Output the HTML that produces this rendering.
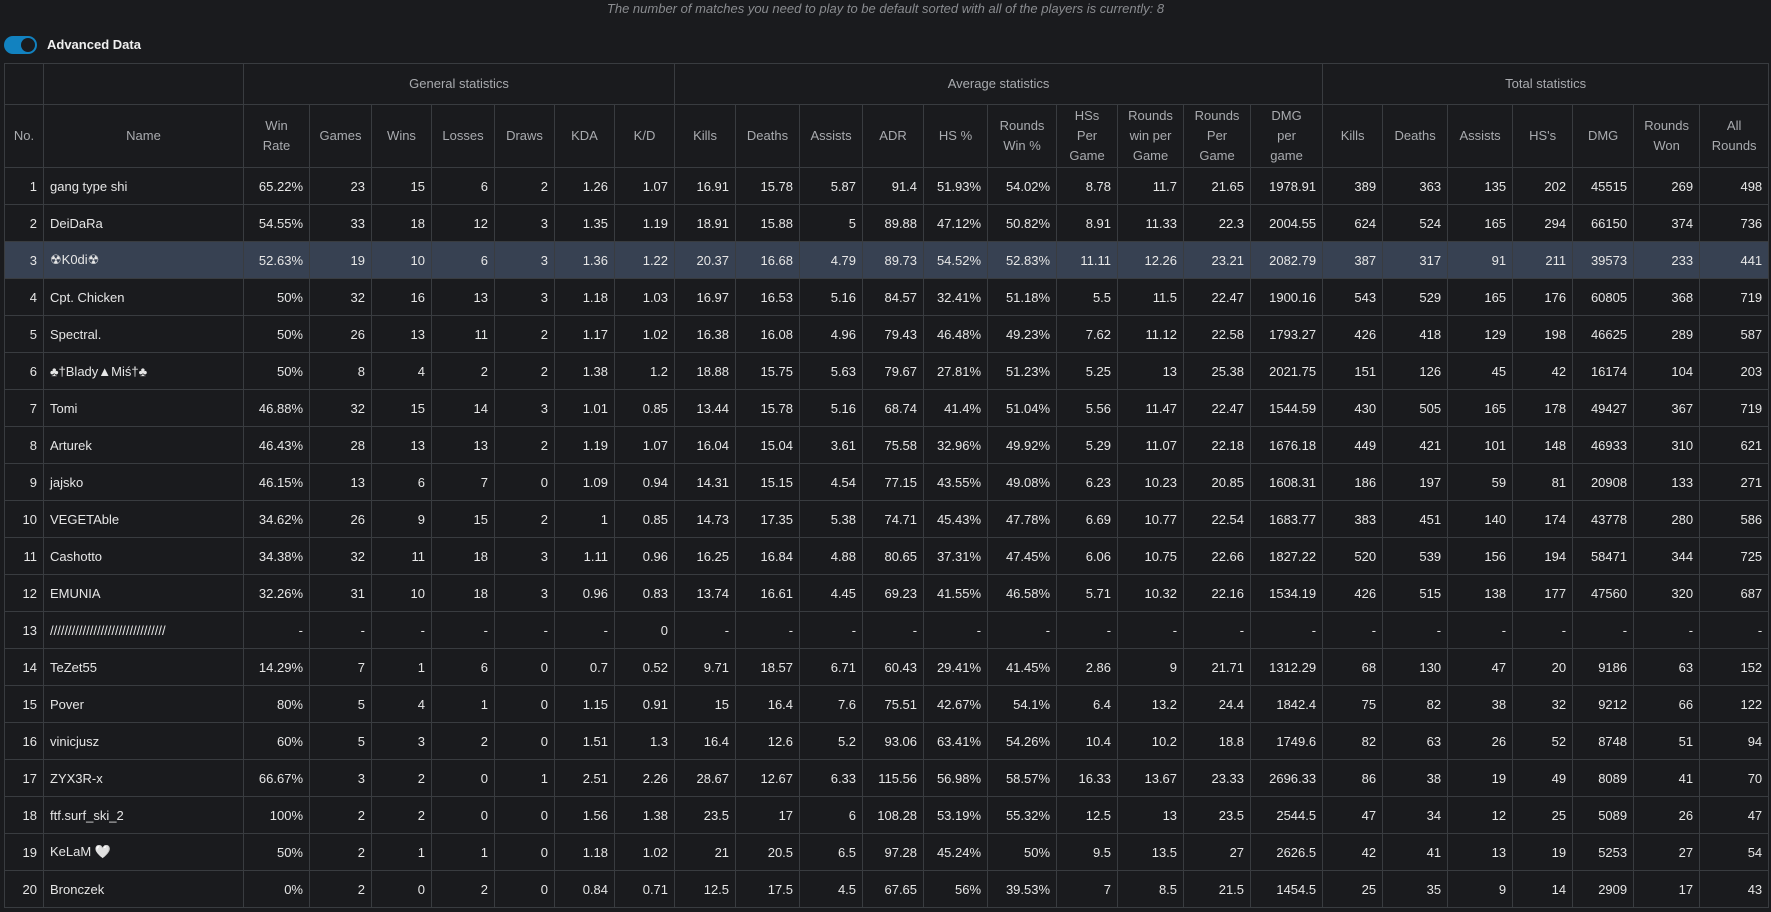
<!DOCTYPE html>
<html><head><meta charset="utf-8"><style>
body{margin:0;background:#1a1b1e;width:1771px;height:912px;overflow:hidden;font-family:"Liberation Sans","DejaVu Sans",sans-serif;color:#e6e6e6;position:relative}
#note{position:absolute;top:1px;left:0;width:1771px;text-align:center;font-style:italic;font-size:13px;color:#8a8c90}
#tog{position:absolute;left:4px;top:36px;width:33px;height:18px;border-radius:9px;background:#1282c0}
#tog div{position:absolute;right:2px;top:2px;width:14px;height:14px;border-radius:7px;background:#1a1b1e}
#lbl{position:absolute;left:47px;top:37px;font-size:13px;font-weight:bold;color:#f0f0f0}
table{position:absolute;left:4px;top:63px;border-collapse:collapse;table-layout:fixed;width:1764px;font-size:13px}
td,th{border:1px solid #393c40;padding:0 6px;overflow:hidden;white-space:nowrap}
th{color:#a9abaf;font-weight:normal;text-align:center;line-height:20px;padding:0 2px}
tr.g th{height:40px}
tr.h th{height:62px}
td{height:36px;text-align:right}
td.n{text-align:left}
tr.hl td{background:#374152}
</style></head><body>
<div id="note">The number of matches you need to play to be default sorted with all of the players is currently: 8</div>
<div id="tog"><div></div></div>
<div id="lbl">Advanced Data</div>
<table id="t">
<colgroup id="cg"></colgroup>
<thead>
<tr class="g"><th></th><th></th><th colspan="7">General statistics</th><th colspan="10">Average statistics</th><th colspan="7">Total statistics</th></tr>
<tr class="h" id="hr"></tr>
</thead><tbody id="tb"></tbody></table>
<script>
const edges=[4,43,243,309,371,431,494,554,614,674,735,799,862,923,987,1056,1117,1183,1250,1322,1382,1447,1512,1572,1633,1699,1768];
const headers=["No.","Name","Win|Rate","Games","Wins","Losses","Draws","KDA","K/D","Kills","Deaths","Assists","ADR","HS %","Rounds|Win %","HSs|Per|Game","Rounds|win per|Game","Rounds|Per|Game","DMG|per|game","Kills","Deaths","Assists","HS's","DMG","Rounds|Won","All|Rounds"];
const rows=[
["1","gang type shi","65.22%","23","15","6","2","1.26","1.07","16.91","15.78","5.87","91.4","51.93%","54.02%","8.78","11.7","21.65","1978.91","389","363","135","202","45515","269","498"],
["2","DeiDaRa","54.55%","33","18","12","3","1.35","1.19","18.91","15.88","5","89.88","47.12%","50.82%","8.91","11.33","22.3","2004.55","624","524","165","294","66150","374","736"],
["3","☢K0di☢","52.63%","19","10","6","3","1.36","1.22","20.37","16.68","4.79","89.73","54.52%","52.83%","11.11","12.26","23.21","2082.79","387","317","91","211","39573","233","441"],
["4","Cpt. Chicken","50%","32","16","13","3","1.18","1.03","16.97","16.53","5.16","84.57","32.41%","51.18%","5.5","11.5","22.47","1900.16","543","529","165","176","60805","368","719"],
["5","Spectral.","50%","26","13","11","2","1.17","1.02","16.38","16.08","4.96","79.43","46.48%","49.23%","7.62","11.12","22.58","1793.27","426","418","129","198","46625","289","587"],
["6","♣†Blady▲Miś†♣","50%","8","4","2","2","1.38","1.2","18.88","15.75","5.63","79.67","27.81%","51.23%","5.25","13","25.38","2021.75","151","126","45","42","16174","104","203"],
["7","Tomi","46.88%","32","15","14","3","1.01","0.85","13.44","15.78","5.16","68.74","41.4%","51.04%","5.56","11.47","22.47","1544.59","430","505","165","178","49427","367","719"],
["8","Arturek","46.43%","28","13","13","2","1.19","1.07","16.04","15.04","3.61","75.58","32.96%","49.92%","5.29","11.07","22.18","1676.18","449","421","101","148","46933","310","621"],
["9","jajsko","46.15%","13","6","7","0","1.09","0.94","14.31","15.15","4.54","77.15","43.55%","49.08%","6.23","10.23","20.85","1608.31","186","197","59","81","20908","133","271"],
["10","VEGETAble","34.62%","26","9","15","2","1","0.85","14.73","17.35","5.38","74.71","45.43%","47.78%","6.69","10.77","22.54","1683.77","383","451","140","174","43778","280","586"],
["11","Cashotto","34.38%","32","11","18","3","1.11","0.96","16.25","16.84","4.88","80.65","37.31%","47.45%","6.06","10.75","22.66","1827.22","520","539","156","194","58471","344","725"],
["12","EMUNIA","32.26%","31","10","18","3","0.96","0.83","13.74","16.61","4.45","69.23","41.55%","46.58%","5.71","10.32","22.16","1534.19","426","515","138","177","47560","320","687"],
["13","////////////////////////////////","-","-","-","-","-","-","0","-","-","-","-","-","-","-","-","-","-","-","-","-","-","-","-","-"],
["14","TeZet55","14.29%","7","1","6","0","0.7","0.52","9.71","18.57","6.71","60.43","29.41%","41.45%","2.86","9","21.71","1312.29","68","130","47","20","9186","63","152"],
["15","Pover","80%","5","4","1","0","1.15","0.91","15","16.4","7.6","75.51","42.67%","54.1%","6.4","13.2","24.4","1842.4","75","82","38","32","9212","66","122"],
["16","vinicjusz","60%","5","3","2","0","1.51","1.3","16.4","12.6","5.2","93.06","63.41%","54.26%","10.4","10.2","18.8","1749.6","82","63","26","52","8748","51","94"],
["17","ZYX3R-x","66.67%","3","2","0","1","2.51","2.26","28.67","12.67","6.33","115.56","56.98%","58.57%","16.33","13.67","23.33","2696.33","86","38","19","49","8089","41","70"],
["18","ftf.surf_ski_2","100%","2","2","0","0","1.56","1.38","23.5","17","6","108.28","53.19%","55.32%","12.5","13","23.5","2544.5","47","34","12","25","5089","26","47"],
["19","KeLaM 🤍","50%","2","1","1","0","1.18","1.02","21","20.5","6.5","97.28","45.24%","50%","9.5","13.5","27","2626.5","42","41","13","19","5253","27","54"],
["20","Bronczek","0%","2","0","2","0","0.84","0.71","12.5","17.5","4.5","67.65","56%","39.53%","7","8.5","21.5","1454.5","25","35","9","14","2909","17","43"]
];
const cg=document.getElementById('cg'),hr=document.getElementById('hr'),tb=document.getElementById('tb');
for(let i=0;i<edges.length-1;i++){const c=document.createElement('col');c.style.width=(edges[i+1]-edges[i])+'px';cg.appendChild(c);}
headers.forEach((h)=>{const th=document.createElement('th');
h.split('|').forEach((p,k)=>{if(k)th.appendChild(document.createElement('br'));th.appendChild(document.createTextNode(p));});


hr.appendChild(th);});
rows.forEach((r,ri)=>{const tr=document.createElement('tr');


if(ri===2)tr.className='hl';
r.forEach((v,ci)=>{const td=document.createElement('td');td.textContent=v;if(ci===1)td.className='n';


tr.appendChild(td);});tb.appendChild(tr);});
</script>
</body></html>
